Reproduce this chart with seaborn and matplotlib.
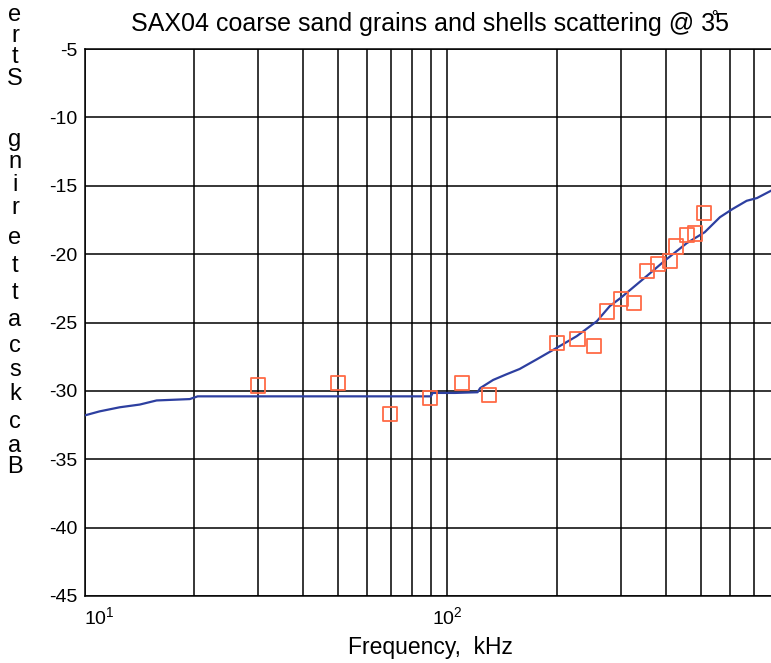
import numpy as np
import pandas as pd
import matplotlib
matplotlib.use("Agg")
import matplotlib.pyplot as plt
from matplotlib.ticker import FixedLocator, LogLocator, NullFormatter
import seaborn as sns

# ---- data ----
model_freq = [10, 11, 12.5, 14.2, 15.8, 19.5, 20.5, 40, 60, 90, 91, 105, 121, 123,
              133.6, 145, 158, 176, 200, 227, 258, 280, 300, 354, 400, 456, 511,
              563, 610, 667, 712, 800]
model_db = [-31.8, -31.5, -31.2, -31.0, -30.7, -30.6, -30.4, -30.4, -30.4, -30.4,
            -30.15, -30.15, -30.1, -29.8, -29.2, -28.8, -28.4, -27.7, -26.85, -26.0,
            -24.9, -23.8, -23.2, -21.6, -20.4, -19.2, -18.4, -17.3, -16.7, -16.1,
            -15.9, -15.2]

data_freq = [30.1, 50, 69.4, 89.6, 109.9, 130, 200, 228, 253, 274.5, 300, 327,
             354, 379.5, 410, 426, 456, 481, 510]
data_db = [-29.6, -29.4, -31.7, -30.5, -29.4, -30.3, -26.5, -26.2, -26.7, -24.2,
           -23.3, -23.6, -21.24, -20.75, -20.5, -19.45, -18.6, -18.5, -17.0]

y_ticks = [-45, -40, -35, -30, -25, -20, -15, -10, -5]
x_major = [10, 100]
x_major_labels = [r"$10^1$", r"$10^2$"]
title = "SAX04 coarse sand grains and shells scattering @ 3\u030a5"
xlabel = "Frequency,  kHz"
ylabel = "Backscattering Stre"

# ---- style ----
sns.set_theme(style="white")
plt.rcParams["font.family"] = ["Liberation Sans", "DejaVu Sans"]
plt.rcParams["mathtext.fontset"] = "custom"
plt.rcParams["mathtext.rm"] = "Liberation Sans"
plt.rcParams["mathtext.it"] = "Liberation Sans"
plt.rcParams["mathtext.bf"] = "Liberation Sans"

W, H = 771, 663
fig = plt.figure(figsize=(W / 100, H / 100), dpi=100)
left_px, right_px, top_px, bot_px = 84.5, 776, 49, 596
ax = fig.add_axes([left_px / W, 1 - bot_px / H, (right_px - left_px) / W, (bot_px - top_px) / H])

model = pd.DataFrame({"freq": model_freq, "db": model_db})
meas = pd.DataFrame({"freq": data_freq, "db": data_db})

sns.lineplot(data=model, x="freq", y="db", ax=ax, color="#2d3fa0", lw=1.6, zorder=3)
sns.scatterplot(data=meas, x="freq", y="db", ax=ax, marker="s", s=105, zorder=4)
pts = ax.collections[-1]
pts.set_facecolor("none")
pts.set_edgecolor("#ff6a45")
pts.set_linewidth(1.3)

ax.set_xscale("log")
decade_px = 363.0
xmax = 10 ** (1 + (right_px - left_px) / decade_px)
ax.set_xlim(10, xmax)
ax.set_ylim(-45, -5)
ax.xaxis.set_major_locator(FixedLocator(x_major))
ax.xaxis.set_minor_locator(LogLocator(base=10, subs=np.arange(2, 10)))
ax.xaxis.set_minor_formatter(NullFormatter())
ax.set_xticklabels(x_major_labels)
ax.set_yticks(y_ticks)
ax.set_yticklabels([str(v) for v in y_ticks])

ax.grid(True, which="both", color="black", lw=1.1)
for s in ["left", "bottom", "top"]:
    ax.spines[s].set_visible(True)
    ax.spines[s].set_color("black")
    ax.spines[s].set_linewidth(1.1)
ax.spines["right"].set_visible(False)
ax.tick_params(which="both", length=0)
ax.tick_params(axis="y", labelsize=14, pad=5, colors="black")
ax.tick_params(axis="x", labelsize=14, pad=7, colors="black")
xl = ax.get_xticklabels()
xl[0].set_horizontalalignment("left")

ax.set_xlabel(xlabel, fontsize=16.5, color="black", labelpad=6)
ax.set_ylabel("")
ax.set_title(title, fontsize=18, color="black", pad=13)

# stacked vertical y-label (reversed characters, as in the reference)
char_y = [467, 446, 422, 394, 370, 346, 320, 293, 266, 238, 208, 185, 162, 140,
          None, 79, 57, 36, 15]
for ch, yy in zip(ylabel, char_y):
    if ch == " " or yy is None:
        continue
    fig.text(15 / W, 1 - yy / H, ch, fontsize=17, ha="center", va="center", color="black")

fig.savefig("out.png", dpi=100, facecolor="white")
